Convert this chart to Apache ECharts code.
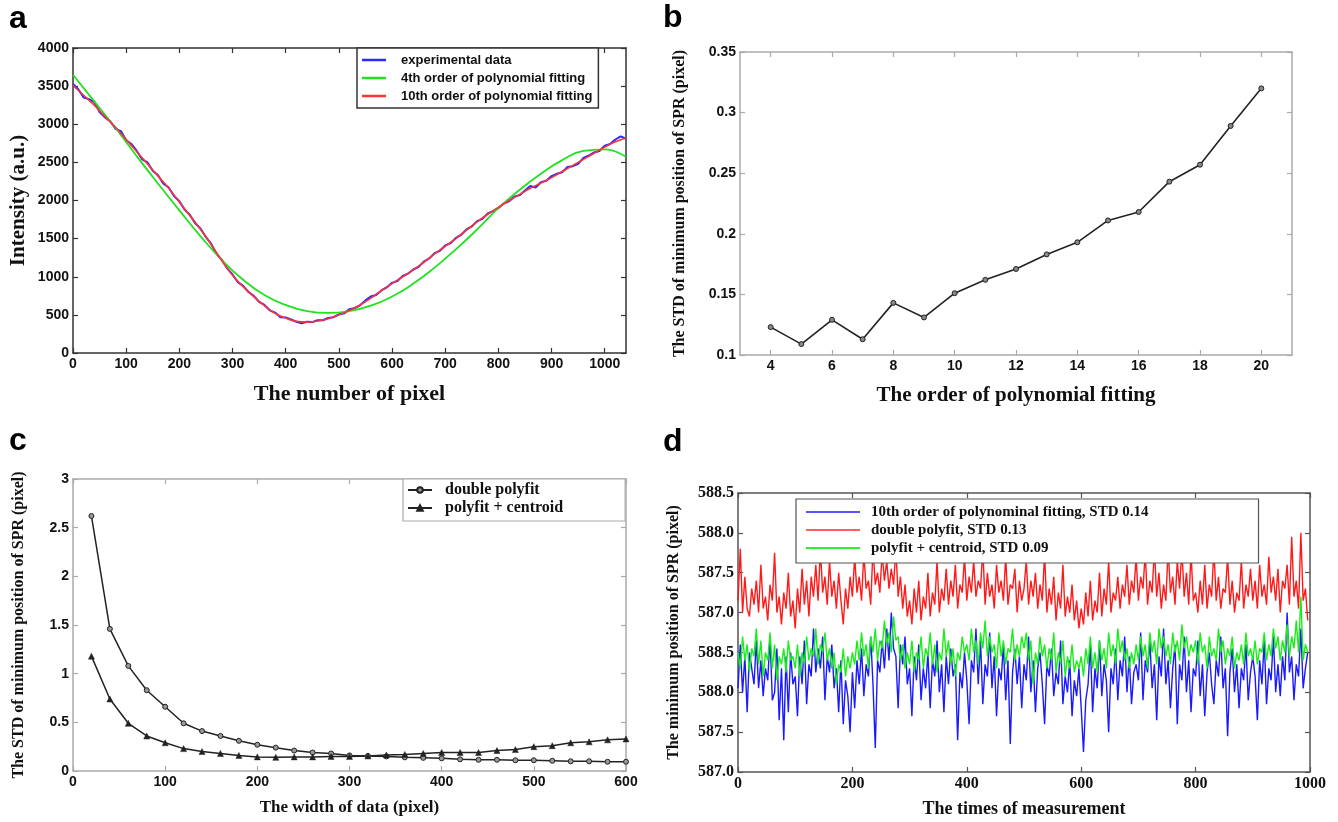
<!DOCTYPE html>
<html><head><meta charset="utf-8">
<script src="https://cdn.jsdelivr.net/npm/echarts@6/dist/echarts.min.js"></script>
<style>html,body{margin:0;padding:0;background:#fff}#c{width:1338px;height:822px}</style>
</head><body><div id="c"></div>
<script>
// ---------- Panel a ----------
const aXTicks = [0,100,200,300,400,500,600,700,800,900,1000];
const aYTicks = [0,500,1000,1500,2000,2500,3000,3500,4000];
const aBlueStep = 10;
const aBlue = [3530,3460,3350,3330,3290,3160,3090,3040,2940,2910,2790,2740,2650,2540,2500,2390,2330,2220,2170,2060,
  1990,1880,1810,1700,1630,1520,1430,1300,1220,1110,1030,930,880,800,750,670,630,560,530,470,
  465,440,410,390,410,405,430,430,460,470,505,520,575,590,625,690,740,760,820,860,
  920,945,1010,1040,1095,1130,1200,1240,1310,1340,1410,1440,1510,1550,1620,1660,1730,1760,1830,1860,
  1900,1960,1990,2050,2070,2130,2190,2170,2240,2260,2320,2350,2370,2440,2450,2480,2560,2590,2630,2650,
  2720,2740,2800,2840,2810];
const aRedStep = 20;
const aRed = [3510,3380,3250,3100,2960,2800,2640,2480,2320,2160,1980,1800,1620,1420,1210,1020,870,740,620,520,
  460,415,405,420,450,500,560,630,720,820,910,1000,1090,1190,1300,1400,1500,1610,1720,1820,
  1910,2000,2080,2160,2230,2300,2380,2460,2540,2620,2700,2770,2820];
const aGreenStep = 40;
const aGreen = [3650,3300,2950,2580,2220,1870,1530,1220,960,760,630,550,525,550,620,740,910,1120,1360,1620,
  1900,2140,2350,2530,2650,2670,2570];

// ---------- Panel b ----------
const bOrders = [4,5,6,7,8,9,10,11,12,13,14,15,16,17,18,19,20];
const bStd = [0.123,0.109,0.129,0.113,0.143,0.131,0.151,0.162,0.171,0.183,0.193,0.211,0.218,0.243,0.257,0.289,0.320];
const bXTicks = [4,6,8,10,12,14,16,18,20];
const bYTicks = [0.1,0.15,0.2,0.25,0.3,0.35];

// ---------- Panel c ----------
const cWidths = [20,40,60,80,100,120,140,160,180,200,220,240,260,280,300,320,340,360,380,400,420,440,460,480,500,520,540,560,580,600];
const cDouble = [2.62,1.46,1.08,0.83,0.66,0.49,0.41,0.36,0.31,0.27,0.24,0.21,0.19,0.18,0.16,0.155,0.15,0.14,0.135,0.13,0.12,0.115,0.115,0.11,0.11,0.105,0.10,0.10,0.095,0.095];
const cCentroid = [1.18,0.74,0.49,0.36,0.29,0.23,0.20,0.18,0.16,0.145,0.14,0.145,0.145,0.15,0.15,0.155,0.165,0.17,0.18,0.19,0.19,0.19,0.21,0.22,0.25,0.26,0.29,0.30,0.32,0.33];
const cXTicks = [0,100,200,300,400,500,600];
const cYTicks = [0,0.5,1,1.5,2,2.5,3];

// ---------- Panel d ----------
const dStep = 4;
const dYTickLabels = ['587.0','587.5','588.0','588.5','587.0','587.5','588.0','588.5'];
const dXTicks = [0,200,400,600,800,1000];
const dBlue = [2.1,3.2,2.0,2.9,1.5,3.0,2.6,2.2,3.3,2.1,2.8,1.9,2.6,2.3,3.4,1.8,2.0,3.1,1.3,2.6,0.8,2.9,1.5,3.0,2.2,
  2.4,1.4,2.9,2.2,3.3,1.7,2.7,2.4,3.6,2.5,3.1,2.6,3.4,1.8,2.9,2.5,3.2,2.1,2.6,1.5,2.8,1.2,2.3,1.9,1.0,
  2.5,1.6,2.8,2.2,3.1,1.9,2.7,2.4,3.4,2.2,0.6,2.8,2.5,3.3,2.6,3.6,2.8,4.0,3.1,2.9,1.6,3.2,2.7,3.4,2.2,
  2.6,1.4,2.9,2.3,3.2,1.8,2.6,2.1,3.0,1.6,2.8,2.4,3.3,2.0,2.7,1.5,2.9,2.2,3.1,2.4,2.7,0.8,2.5,2.1,3.0,
  2.3,1.2,2.8,2.5,3.6,2.2,3.3,1.7,2.7,2.4,3.5,2.1,2.9,1.4,2.6,2.3,3.2,1.8,2.8,0.7,2.5,3.1,2.2,2.9,1.6,
  2.7,2.3,3.4,2.0,2.8,1.5,2.6,3.0,2.2,1.2,2.7,2.4,3.1,1.9,2.5,2.2,3.3,1.7,2.4,2.0,2.8,1.4,2.3,1.9,2.6,
  1.6,0.5,1.8,2.2,3.2,1.5,2.6,2.1,3.3,1.9,2.7,2.3,1.0,2.6,2.2,3.1,1.8,2.8,2.4,3.4,2.0,2.9,1.7,2.5,2.7,
  2.3,3.5,1.8,2.8,2.5,3.3,2.1,2.7,1.3,2.9,2.4,3.6,2.2,2.8,1.6,2.6,3.2,1.2,2.7,2.3,3.4,2.0,2.8,1.5,2.6,
  2.4,3.3,1.9,2.7,1.4,2.5,3.0,2.2,1.7,2.8,2.4,3.4,2.1,2.6,0.9,2.5,3.1,2.0,2.7,1.6,2.6,2.3,3.2,1.8,2.5,
  2.9,2.4,1.3,2.8,2.2,3.3,1.7,2.6,2.3,3.4,2.0,2.7,1.9,2.9,2.3,4.0,2.5,2.9,1.8,2.7,2.4,3.6,2.1,2.6,3.0];
const dRed = [4.3,5.6,4.0,4.9,4.1,3.9,4.6,4.2,4.8,4.0,5.2,4.1,4.4,3.8,4.7,4.3,5.5,4.0,4.4,3.7,4.5,4.1,5.0,3.9,4.3,
  3.6,4.6,4.0,5.1,4.2,4.8,3.9,4.9,4.4,5.2,4.3,5.6,4.5,4.9,4.2,5.3,4.4,4.8,4.1,5.0,4.3,3.7,4.6,4.1,4.9,
  4.4,5.4,4.5,4.9,4.3,5.5,4.6,4.8,4.2,5.6,4.7,5.0,4.5,5.5,4.8,5.3,4.6,5.1,4.7,5.6,4.4,4.9,4.1,4.7,3.9,
  4.3,3.7,4.6,4.0,4.8,3.8,4.4,4.1,5.0,3.9,4.5,4.2,5.3,4.0,4.6,4.3,5.1,4.2,4.8,4.4,5.2,4.1,4.7,4.5,5.4,
  4.3,4.9,4.5,5.3,4.4,4.8,4.6,5.6,4.2,5.0,4.4,4.7,4.1,5.2,4.5,4.8,4.3,5.4,4.2,4.7,4.6,5.1,4.0,4.8,4.3,
  4.6,5.3,4.2,4.8,4.4,5.0,4.1,4.7,4.3,5.5,4.0,4.6,4.2,4.9,3.8,4.5,4.1,5.2,3.9,4.4,4.0,4.7,3.8,4.3,3.6,
  4.1,3.7,4.5,3.9,4.8,3.8,4.3,4.0,5.0,3.9,4.6,4.2,5.3,4.0,4.5,4.3,4.9,4.1,4.7,4.4,5.2,4.2,4.8,4.5,5.4,
  4.3,4.9,4.6,5.5,4.2,4.8,4.5,5.6,4.4,5.0,4.1,4.7,4.3,5.6,4.5,4.9,4.2,5.3,4.6,5.6,4.4,5.0,4.2,5.5,4.3,
  4.5,4.0,4.8,4.2,5.2,4.1,4.7,4.4,5.6,4.3,4.9,4.1,4.6,4.5,5.4,4.2,4.8,4.0,4.5,4.3,5.3,4.1,4.7,4.4,5.1,
  4.3,4.8,4.1,5.2,4.4,4.7,4.2,5.4,4.5,4.9,4.3,5.1,4.0,4.8,4.6,5.2,4.2,5.9,4.4,4.8,4.1,6.0,4.3,4.6,3.8];
const dGreen = [3.0,2.6,3.4,2.8,3.2,2.5,3.1,2.9,3.6,2.7,3.3,2.4,3.0,2.8,3.5,2.6,3.2,2.3,2.9,2.7,3.1,2.5,3.3,2.8,2.9,
  2.6,3.2,2.4,3.0,2.7,3.4,2.8,3.1,2.9,3.6,2.7,3.2,3.0,3.5,2.8,3.1,2.6,3.0,2.2,2.7,2.5,3.1,2.4,2.9,2.6,
  3.0,2.7,3.3,2.8,3.5,2.9,3.2,2.6,3.4,3.0,3.6,2.8,3.3,3.1,3.8,3.2,3.5,3.0,3.9,3.3,3.4,2.8,3.2,2.6,3.0,
  2.7,3.3,2.5,3.0,2.8,3.4,2.6,3.1,2.9,3.5,2.7,3.2,2.5,3.0,2.8,3.6,2.9,3.3,2.7,3.1,2.4,3.0,2.8,3.4,3.0,
  3.2,2.8,3.6,3.0,3.3,2.7,3.5,3.1,3.8,2.9,3.4,3.0,3.2,2.6,3.5,2.9,3.3,2.7,3.1,3.0,3.6,2.8,3.2,2.9,3.4,
  3.1,3.5,2.8,3.3,2.2,3.0,2.7,3.4,2.9,3.2,2.6,3.1,2.8,3.5,2.5,3.0,2.7,3.3,2.4,2.9,2.6,3.2,2.5,2.8,2.6,
  2.9,2.4,3.1,2.7,3.4,2.6,3.0,2.5,3.3,2.8,3.1,2.6,3.5,2.9,3.2,2.7,3.6,3.0,3.3,2.8,3.1,2.6,3.0,2.7,3.2,
  2.8,3.4,2.9,3.2,2.6,3.5,3.0,3.3,2.7,3.6,3.1,3.4,2.9,3.2,2.7,3.5,3.0,3.3,2.8,3.7,3.1,3.4,2.9,3.2,3.0,
  3.3,2.7,3.5,3.0,3.2,2.6,3.4,2.9,3.1,2.8,3.6,3.0,3.3,2.7,3.1,2.9,3.4,2.6,3.0,2.8,3.2,2.7,3.5,2.9,3.1,
  2.8,3.3,2.7,3.1,3.0,3.5,2.8,3.2,2.9,3.6,3.1,3.4,2.8,3.3,3.0,3.7,2.9,3.4,3.1,3.8,3.0,4.4,2.8,3.2,3.0];

// ---------- build ----------
const SANS = "'Liberation Sans', Arial, sans-serif";
const SERIF = "'Liberation Serif', 'Times New Roman', serif";
const pairs = (arr, step, x0) => arr.map((v, i) => [x0 + i * step, v]);
const zip = (xs, ys) => xs.map((x, i) => [x, ys[i]]);

function mkAx(gi, pos, min, max, ticks, col, lab, name, nameSize, nameGap) {
  return {
    type: 'value', gridIndex: gi, position: pos, min: min, max: max,
    axisLine: { show: true, onZero: false, lineStyle: { color: col, width: 1.5 } },
    axisTick: { show: true, inside: true, length: 5, customValues: ticks, lineStyle: { color: col, width: 1.2 } },
    axisLabel: Object.assign({ show: !!lab, customValues: ticks, color: '#111', margin: 4, formatter: v => String(v) }, lab || {}),
    splitLine: { show: false },
    name: name || '', nameLocation: 'middle', nameGap: nameGap || 0,
    nameTextStyle: { fontFamily: SERIF, fontWeight: 'bold', fontSize: nameSize || 16, color: '#111' }
  };
}

const labSans = { fontFamily: SANS, fontWeight: 'bold', fontSize: 14 };
const labSerif = { fontFamily: SERIF, fontWeight: 'bold', fontSize: 16 };
const colA = '#333', colB = '#aaa', colC = '#aaa', colD = '#555';

const xAxes = [
  mkAx(0, 'bottom', 0, 1040, aXTicks, colA, labSans, 'The number of pixel', 22, 30),
  mkAx(0, 'top', 0, 1040, aXTicks, colA, null),
  mkAx(1, 'bottom', 3, 21, bXTicks, colB, labSans, 'The order of polynomial fitting', 21, 30),
  mkAx(1, 'top', 3, 21, bXTicks, colB, null),
  mkAx(2, 'bottom', 0, 600, cXTicks, colC, labSans, 'The width of data (pixel)', 17, 28),
  mkAx(2, 'top', 0, 600, cXTicks, colC, null),
  mkAx(3, 'bottom', 0, 1000, dXTicks, colD, labSerif, 'The times of measurement', 18, 28),
  mkAx(3, 'top', 0, 1000, dXTicks, colD, null)
];
const yAxes = [
  mkAx(0, 'left', 0, 4000, aYTicks, colA, labSans, 'Intensity (a.u.)', 21, 44),
  mkAx(0, 'right', 0, 4000, aYTicks, colA, null),
  mkAx(1, 'left', 0.1, 0.35, bYTicks, colB, labSans, 'The STD of minimum position of SPR (pixel)', 16, 52),
  mkAx(1, 'right', 0.1, 0.35, bYTicks, colB, null),
  mkAx(2, 'left', 0, 3, cYTicks, colC, labSans, 'The STD of minimum position of SPR (pixel)', 16, 46),
  mkAx(2, 'right', 0, 3, cYTicks, colC, null),
  mkAx(3, 'left', 0, 7, [0,1,2,3,4,5,6,7], colD,
      Object.assign({}, labSerif, { formatter: v => dYTickLabels[Math.round(v)] }),
      'The minimum position of SPR (pixel)', 16, 56),
  mkAx(3, 'right', 0, 7, [0,1,2,3,4,5,6,7], colD, null)
];

const series = [
  { name: 'experimental data', type: 'line', xAxisIndex: 0, yAxisIndex: 0, showSymbol: false,
    data: pairs(aBlue, aBlueStep, 0), lineStyle: { color: '#2a2aff', width: 2 }, itemStyle: { color: '#2a2aff' } },
  { name: '4th order of polynomial fitting', type: 'line', xAxisIndex: 0, yAxisIndex: 0, showSymbol: false, smooth: 0.5,
    data: pairs(aGreen, aGreenStep, 0), lineStyle: { color: '#22e022', width: 1.8 }, itemStyle: { color: '#22e022' } },
  { name: '10th order of polynomial fitting', type: 'line', xAxisIndex: 0, yAxisIndex: 0, showSymbol: false, smooth: true,
    data: pairs(aRed, aRedStep, 0), lineStyle: { color: '#ff3333', width: 1.6 }, itemStyle: { color: '#ff3333' } },

  { name: 'b', type: 'line', xAxisIndex: 2, yAxisIndex: 2, symbol: 'circle', symbolSize: 5,
    data: zip(bOrders, bStd), lineStyle: { color: '#222', width: 1.6 },
    itemStyle: { color: '#888', borderColor: '#222', borderWidth: 1 } },

  { name: 'double polyfit', type: 'line', xAxisIndex: 4, yAxisIndex: 4, symbol: 'circle', symbolSize: 5,
    data: zip(cWidths, cDouble), lineStyle: { color: '#222', width: 1.5 },
    itemStyle: { color: '#999', borderColor: '#222', borderWidth: 1 } },
  { name: 'polyfit + centroid', type: 'line', xAxisIndex: 4, yAxisIndex: 4, symbol: 'triangle', symbolSize: 6,
    data: zip(cWidths, cCentroid), lineStyle: { color: '#222', width: 1.5 },
    itemStyle: { color: '#222', borderColor: '#222', borderWidth: 0.5 } },

  { name: '10th order of polynominal fitting, STD 0.14', type: 'line', xAxisIndex: 6, yAxisIndex: 6, showSymbol: false,
    data: pairs(dBlue, dStep, 0), lineStyle: { color: '#1a1aff', width: 1.4 }, itemStyle: { color: '#5555ff' } },
  { name: 'double polyfit, STD 0.13', type: 'line', xAxisIndex: 6, yAxisIndex: 6, showSymbol: false,
    data: pairs(dRed, dStep, 0), lineStyle: { color: '#ff1a1a', width: 1.4 }, itemStyle: { color: '#ff6060' } },
  { name: 'polyfit + centroid, STD 0.09', type: 'line', xAxisIndex: 6, yAxisIndex: 6, showSymbol: false,
    data: pairs(dGreen, dStep, 0), lineStyle: { color: '#1aee1a', width: 1.4 }, itemStyle: { color: '#33ee33' } }
];

const legends = [
  { data: ['experimental data', '4th order of polynomial fitting', '10th order of polynomial fitting'],
    left: 357, top: 48, orient: 'vertical', icon: 'rect', itemWidth: 24, itemHeight: 2.5, itemGap: 0,
    padding: [3, 6, 3, 5], borderColor: '#333', borderWidth: 1.5, backgroundColor: '#fff',
    textStyle: { fontFamily: SANS, fontWeight: 'bold', fontSize: 13, color: '#111', lineHeight: 18, padding: [0, 0, 0, 10] },
    selectedMode: false },
  { data: ['double polyfit', 'polyfit + centroid'],
    left: 403, top: 479, orient: 'vertical', itemWidth: 24, itemHeight: 7, itemGap: 0,
    padding: [2, 62, 4, 4], borderColor: '#aaa', borderWidth: 1.2, backgroundColor: '#fff',
    textStyle: { fontFamily: SERIF, fontWeight: 'bold', fontSize: 16, color: '#111', lineHeight: 18, padding: [0, 0, 0, 8] },
    selectedMode: false },
  { data: ['10th order of polynominal fitting, STD 0.14', 'double polyfit, STD 0.13', 'polyfit + centroid, STD 0.09'],
    left: 796, top: 499, orient: 'vertical', icon: 'rect', itemWidth: 54, itemHeight: 2, itemGap: 0,
    padding: [4, 110, 6, 10], borderColor: '#555', borderWidth: 1.2, backgroundColor: '#fff',
    textStyle: { fontFamily: SERIF, fontWeight: 'bold', fontSize: 15, color: '#111', lineHeight: 18, padding: [0, 0, 0, 6] },
    selectedMode: false }
];

const letter = (t, x, y) => ({ type: 'text', left: x, top: y,
  style: { text: t, font: "bold 32px 'Liberation Sans', Arial", fill: '#000' } });

const chart = echarts.init(document.getElementById('c'), null, { renderer: 'canvas' });
chart.setOption({
  animation: false,
  backgroundColor: '#fff',
  grid: [
    { left: 73, top: 48, width: 553, height: 305 },
    { left: 740, top: 52, width: 552, height: 303 },
    { left: 73, top: 479, width: 553, height: 292 },
    { left: 738, top: 493, width: 572, height: 279 }
  ],
  xAxis: xAxes,
  yAxis: yAxes,
  legend: legends,
  series: series,
  graphic: [letter('a', 9, 3), letter('b', 663, 2), letter('c', 9, 425), letter('d', 663, 426)]
});
</script>
</body></html>
